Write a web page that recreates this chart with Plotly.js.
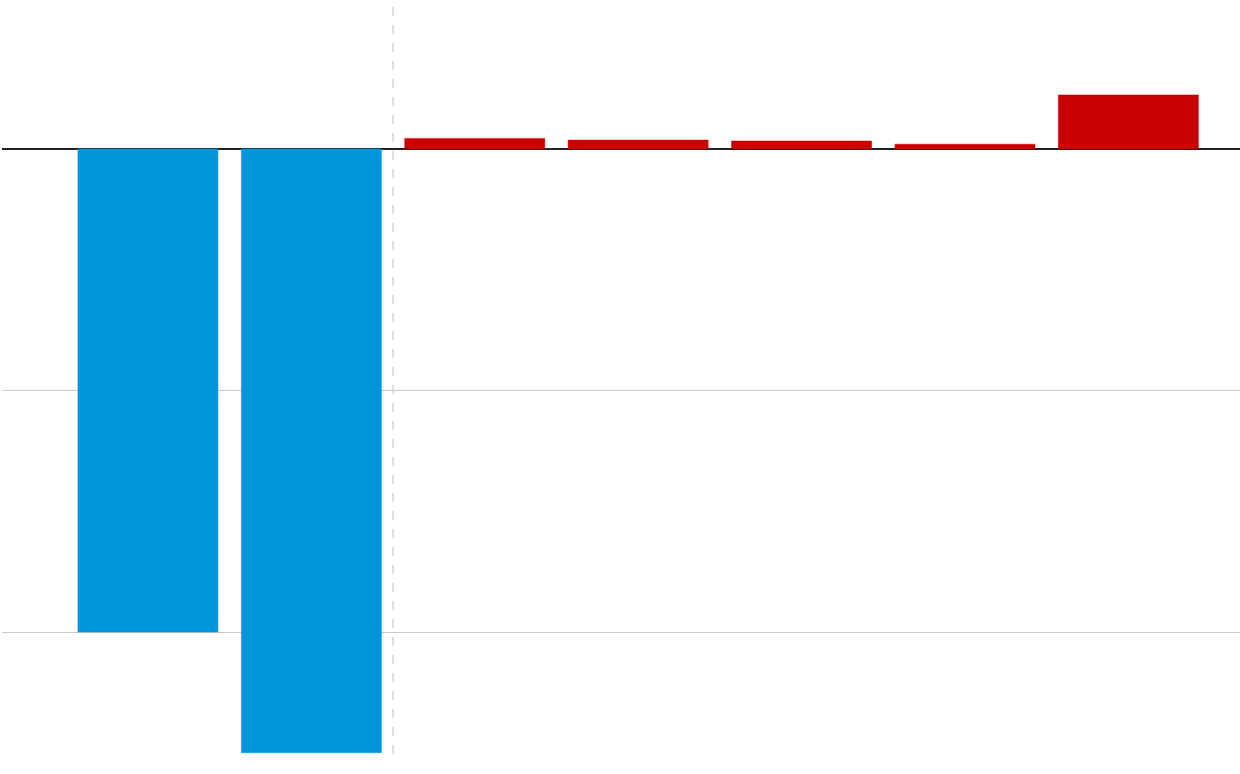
<!DOCTYPE html>
<html>
<head>
<meta charset="utf-8">
<script src="https://cdn.plot.ly/plotly-3.0.1.min.js"></script>
<style>html,body{margin:0;padding:0;background:#fff}#chart{width:1240px;height:774px}</style>
</head>
<body>
<div id="chart"></div>
<script>
const categories = [0, 1, 2, 3, 4, 5, 6];
const values = [-20, -25, 0.44, 0.37, 0.33, 0.2, 2.24];
const colors = ['#0095db', '#0095db', '#c80000', '#c80000', '#c80000', '#c80000', '#c80000'];
const dividerAt = 1.5;

const trace = {
  type: 'bar',
  x: categories,
  y: values,
  marker: {color: colors, line: {color: colors, width: 0.5}},
  hoverinfo: 'none'
};

const layout = {
  width: 1240, height: 774,
  margin: {l: 2, r: 0, t: 0, b: 20},
  paper_bgcolor: '#fff', plot_bgcolor: '#fff',
  showlegend: false,
  bargap: 0.143,
  xaxis: {range: [-0.893, 6.683], showgrid: false, zeroline: false, showticklabels: false, ticks: '', fixedrange: true},
  yaxis: {range: [-25.05, 6.17], dtick: 10, tick0: 0, showgrid: true, gridcolor: '#cccccc', gridwidth: 1,
          zeroline: true, zerolinecolor: '#222222', zerolinewidth: 2, showticklabels: false, ticks: '', fixedrange: true},
  shapes: [{type: 'line', xref: 'x', yref: 'paper', x0: dividerAt, x1: dividerAt, y0: 0, y1: 1,
            line: {color: '#d4d4d4', width: 1.5, dash: 'dash'}, layer: 'below'}]
};

Plotly.newPlot('chart', [trace], layout, {displayModeBar: false, staticPlot: true});
</script>
</body>
</html>
